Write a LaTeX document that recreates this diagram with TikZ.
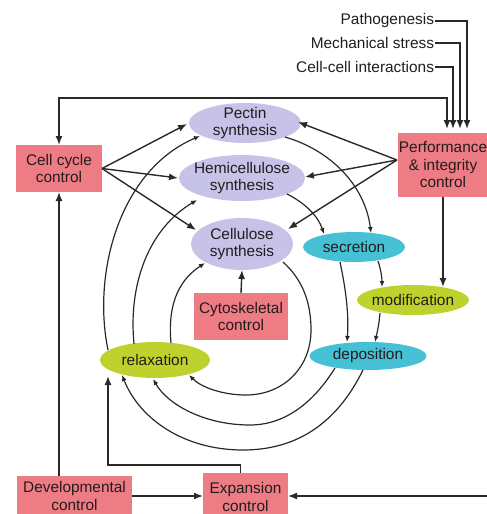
\documentclass[tikz,border=0pt]{standalone}
\usepackage{fontspec}
\setmainfont{Liberation Sans}
\usetikzlibrary{shapes.geometric,arrows.meta,calc}
\definecolor{lav}{RGB}{198,194,232}
\definecolor{cyanb}{RGB}{70,192,212}
\definecolor{limeb}{RGB}{190,210,45}
\definecolor{pinkb}{RGB}{238,124,132}
\definecolor{txt}{RGB}{35,28,28}
\definecolor{ln}{RGB}{45,40,40}
\begin{document}
\begin{tikzpicture}[x=1pt,y=-1pt,
  every node/.style={font=\fontsize{15.4}{17.5}\selectfont, text=txt, align=center, inner sep=0pt, outer sep=0pt},
  ell/.style={ellipse, fill=#1},
  box/.style={rectangle, fill=pinkb},
  big/.style={draw=ln, line width=1.4pt, -{Latex[length=9pt,width=7pt]}},
  arc/.style={draw=ln, line width=1.2pt, -{Latex[length=6pt,width=5pt]}},
]
\useasboundingbox (0,0) rectangle (487,514);
\clip (0,0) rectangle (487,514);

% ellipses
\node[ell=lav, minimum width=112pt, minimum height=40pt, label={[align=center]center:Pectin\\synthesis}] (pectin) at (245,123) {};
\node[ell=lav, minimum width=126pt, minimum height=46pt, label={[align=center]center:Hemicellulose\\synthesis}] (hemi) at (242,178) {};
\node[ell=lav, minimum width=102pt, minimum height=52pt, label={[align=center]center:Cellulose\\synthesis}] (cell) at (242,244) {};
\node[ell=cyanb, minimum width=102pt, minimum height=30pt, label={center:secretion}] (secr) at (354,247) {};
\node[ell=limeb, minimum width=112pt, minimum height=30pt, label={center:modification}] (modif) at (413,300) {};
\node[ell=cyanb, minimum width=117pt, minimum height=28pt, label={center:deposition}] (depo) at (368,356) {};
\node[ell=limeb, minimum width=110pt, minimum height=36pt, label={center:relaxation}] (relax) at (155,360) {};

% boxes
\node[box, minimum width=86pt, minimum height=47pt] (cellcycle) at (59,168.5) {Cell cycle\\control};
\node[box, minimum width=104pt, minimum height=64pt, label={[align=center, xshift=-7pt]center:Performance\\\& integrity\\control}] (perf) at (450,165) {};
\node[box, minimum width=94pt, minimum height=47pt] (cyto) at (241,316.5) {Cytoskeletal\\control};
\node[box, minimum width=115pt, minimum height=40pt] (devel) at (74.5,496) {Developmental\\control};
\node[box, minimum width=85pt, minimum height=48pt] (expan) at (245.5,497) {Expansion\\control};

% top labels
\node[anchor=east] (patho) at (434,21) {Pathogenesis};
\node[anchor=east] (mech) at (434,43) {Mechanical stress};
\node[anchor=east] (cc) at (434,67) {Cell-cell interactions};

% inputs to performance
\draw[big] ($(patho.east)+(1,0)$) -| ($(perf.north)+(17,-4)$);
\draw[big] ($(mech.east)+(1,0)$) -| ($(perf.north)+(10,-4)$);
\draw[big] ($(cc.east)+(1,0)$) -| ($(perf.north)+(3,-4)$);
\draw[big, {Latex[length=9pt,width=7pt]}-{Latex[length=9pt,width=7pt]}] (cellcycle.north) -- ++(0,-47) -| ($(perf.north)+(-3,-4)$);

% cell cycle control
\draw[big] (cellcycle.east) -- ($(pectin)+(-58,1)$);
\draw[big] (cellcycle.east) -- ($(hemi)+(-64,0)$);
\draw[big] (cellcycle.east) -- ($(cell)+(-46,-14)$);

% performance control
\draw[big] ($(perf.west)+(-1,-5)$) -- ($(pectin)+(53,-1)$);
\draw[big] ($(perf.west)+(-1,-5)$) -- ($(hemi)+(63,-1)$);
\draw[big] ($(perf.west)+(-1,-5)$) -- ($(cell)+(46,-15)$);
\draw[big] ($(perf.south)+(-7,0)$) -- ($(modif.north)+(30,2)$);

% other controls
\draw[big] (cyto.north) -- (cell.south);
\draw[big] (cellcycle.south |- devel.north) -- (cellcycle.south);
\draw[big] (devel.east) -- ($(expan.west)+(0,-1)$);
\draw[big] ($(expan.north)+(-5,0)$) -- ++(0,-8) -| ($(relax)+(-47,16)$);
\coordinate (rightend) at (492,496);
\draw[big] (rightend) -- ($(expan.east)+(0,-1)$);

% inner loop
\draw[arc] ($(cell)+(41,18)$) .. controls (303,280) and (311,303) .. (311,330)
  .. controls (311,368) and (283,395) .. (246,395)
  .. controls (222,395) and (201,387) .. ($(relax)+(34,15)$);
\draw[arc] ($(relax)+(16,-17)$) .. controls (167,300) and (182,278) .. ($(cell)+(-37,19)$);

% middle loop
\draw[arc] ($(hemi)+(45,16)$) .. controls (305,203) and (318,216) .. ($(secr)+(-30,-13)$);
\draw[arc] ($(secr)+(-14,15)$) .. controls (346,290) and (349,315) .. ($(depo)+(-21,-14)$);
\draw[arc] ($(depo)+(-33,12)$) .. controls (312,405) and (283,425) .. (250,425)
  .. controls (205,425) and (168,405) .. ($(relax)+(-2,19)$);
\draw[arc] ($(relax)+(-21,-16)$) .. controls (128,282) and (150,228) .. ($(hemi)+(-45,22)$);

% outer loop
\draw[arc] ($(pectin)+(40,14)$) .. controls (330,150) and (365,185) .. ($(secr)+(17,-14)$);
\draw[arc] ($(secr)+(24,14)$) .. controls (381,270) and (382,278) .. ($(modif)+(-31,-13)$);
\draw[arc] ($(modif)+(-33,13)$) .. controls (379,325) and (377,333) .. ($(depo)+(7,-14)$);
\draw[arc] ($(depo)+(-5,14)$) .. controls (336,425) and (295,450) .. (243,450)
  .. controls (185,450) and (140,420) .. ($(relax)+(-33,15)$);
\draw[arc] ($(relax)+(-47,-10)$) .. controls (92,272) and (120,170) .. ($(pectin)+(-45,13)$);
\end{tikzpicture}
\end{document}
